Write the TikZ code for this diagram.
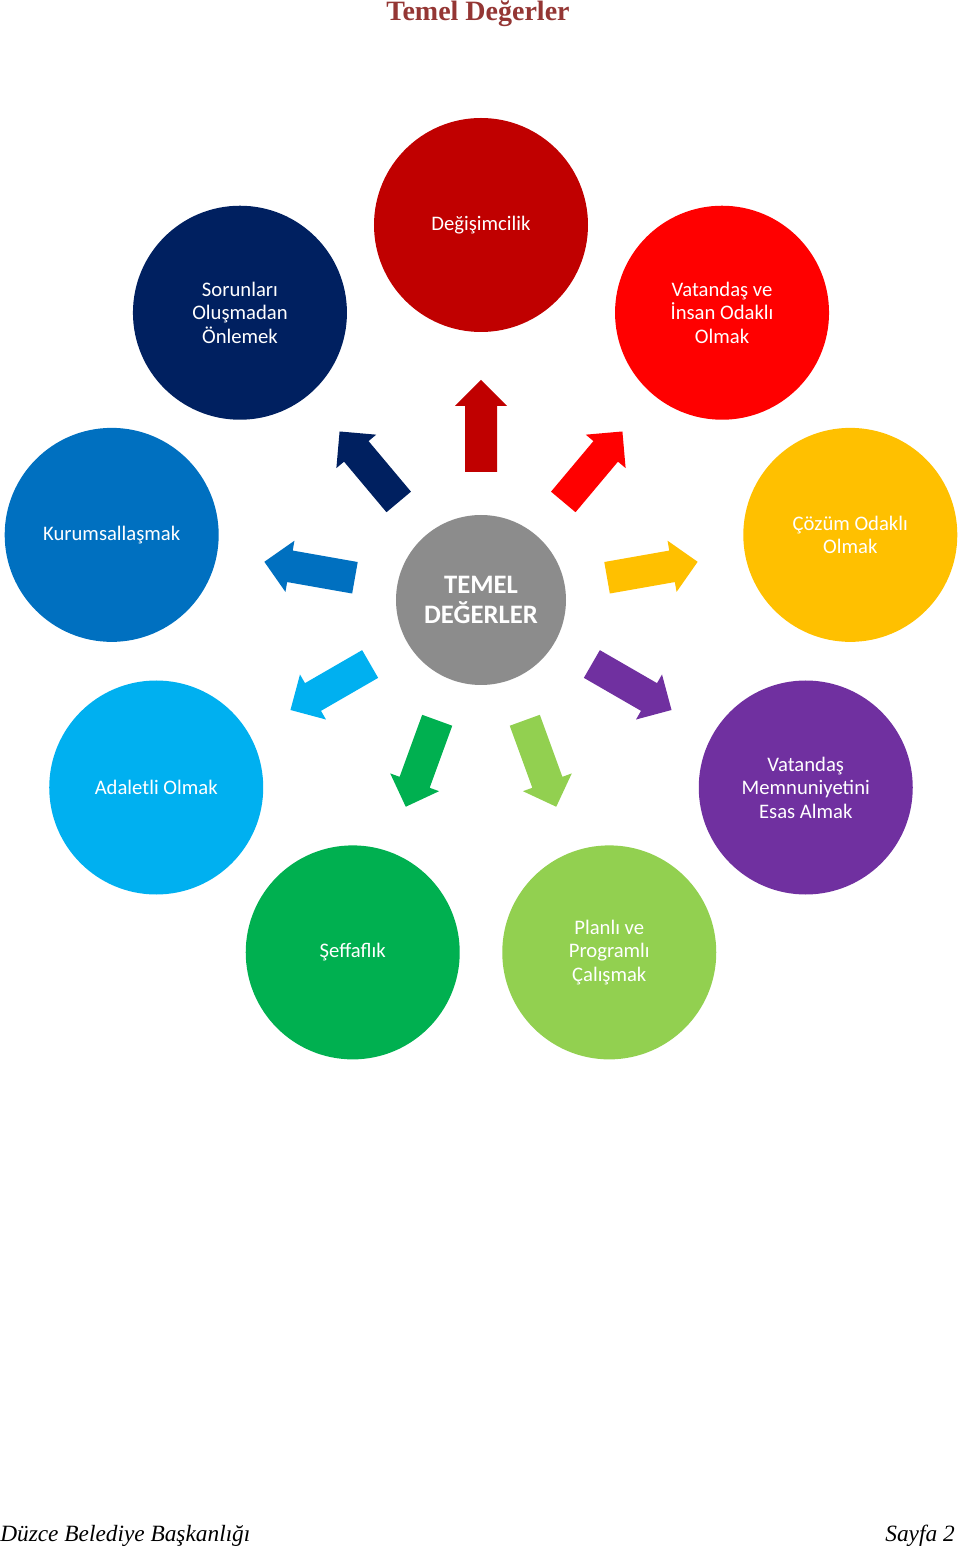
\documentclass[tikz,border=0pt]{standalone}
\usepackage{fontspec}
\setmainfont{Carlito}
\newfontfamily\pagefont{Liberation Serif}
\usepackage{tikz}
\definecolor{cCore}{HTML}{8C8C8C}
\definecolor{cDeg}{HTML}{C00000}
\definecolor{cVat}{HTML}{FF0000}
\definecolor{cCoz}{HTML}{FFC000}
\definecolor{cMem}{HTML}{7030A0}
\definecolor{cPla}{HTML}{92D050}
\definecolor{cSef}{HTML}{00B050}
\definecolor{cAda}{HTML}{00B0F0}
\definecolor{cKur}{HTML}{0070C0}
\definecolor{cSor}{HTML}{002060}
\definecolor{cTitle}{HTML}{943634}
\tikzset{
valnode/.style = {circle, align=center, inner sep=0pt, text=white,
font=\fontsize{15.5}{17.6}\selectfont},
val_c/.style = {valnode, fill=cCore, minimum size=127.5pt,
font=\fontsize{20}{22.5}\selectfont\bfseries},% merkez
val_o/.style = {valnode, minimum size=160.5pt},% dis halka
pagetext/.style = {inner sep=0pt, font=\pagefont\fontsize{17.5}{19}\selectfont\itshape}
}
\begin{document}
\begin{tikzpicture}[x=0.75pt, y=0.75pt]
  \useasboundingbox (-481,-951) rectangle (479,600);
  \node [inner sep=0pt, text=cTitle, font=\pagefont\fontsize{21}{24}\selectfont\bfseries]
    (title) at (-3,586) {Temel Değerler};
  \node [val_c] (core) at (0,0) {TEMEL\\DEĞERLER};
  \foreach \ang/\col/\txt [count=\i] in {
      90/cDeg/{Değişimcilik},
      50/cVat/{Vatandaş ve\\İnsan Odaklı\\Olmak},
      10/cCoz/{Çözüm Odaklı\\Olmak},
      -30/cMem/{Vatandaş\\Memnuniyetini\\Esas Almak},
      -70/cPla/{Planlı ve\\Programlı\\Çalışmak},
      -110/cSef/{Şeffaflık},
      -150/cAda/{Adaletli Olmak},
      170/cKur/{Kurumsallaşmak},
      130/cSor/{Sorunları\\Oluşmadan\\Önlemek}} {
    \node [val_o, fill=\col] (val\i) at (\ang:375) {\txt};
    \fill [\col, rotate=\ang] (128,-16) -- (194,-16) -- (194,-26) -- (220,0)
      -- (194,26) -- (194,16) -- (128,16) -- cycle;
  }
  \node [pagetext, anchor=west] (footl) at (-481,-936) {Düzce Belediye Başkanlığı};
  \node [pagetext, anchor=east] (footr) at (474,-936) {Sayfa 2};
\end{tikzpicture}
\end{document}
